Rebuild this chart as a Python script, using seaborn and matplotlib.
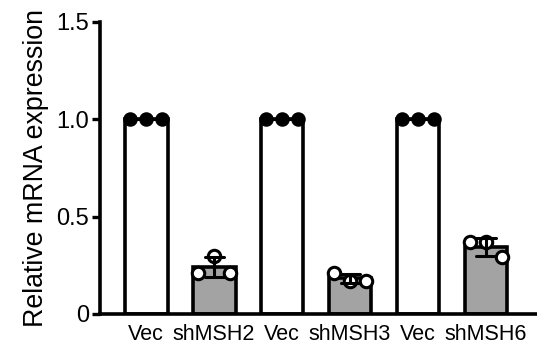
import matplotlib
matplotlib.use("Agg")
import matplotlib.pyplot as plt
import seaborn as sns
import numpy as np
import pandas as pd

groups = ["Vec1", "shMSH2", "Vec2", "shMSH3", "Vec3", "shMSH6"]
tick_labels = ["Vec", "shMSH2", "Vec", "shMSH3", "Vec", "shMSH6"]
vec1 = [1.0, 1.0, 1.0]
shmsh2 = [0.21, 0.30, 0.21]
vec2 = [1.0, 1.0, 1.0]
shmsh3 = [0.21, 0.17, 0.17]
vec3 = [1.0, 1.0, 1.0]
shmsh6 = [0.37, 0.37, 0.29]
replicate_offsets = [-0.24, 0.0, 0.24]

values = [vec1, shmsh2, vec2, shmsh3, vec3, shmsh6]
rows = []
for gi, (g, vals) in enumerate(zip(groups, values)):
    for ri, v in enumerate(vals):
        rows.append({"group": g, "value": v, "kind": "Vec" if g.startswith("Vec") else "sh",
                     "xpos": gi + replicate_offsets[ri]})
df = pd.DataFrame(rows)

sns.set_style("ticks")
plt.rcParams["font.family"] = ["Liberation Sans", "DejaVu Sans"]
for k in ["text.color", "axes.labelcolor", "xtick.color", "ytick.color", "axes.edgecolor"]:
    plt.rcParams[k] = "black"

fig = plt.figure(figsize=(5.37, 3.52), dpi=100)
ax = fig.add_axes([0.186, 0.108, 0.814, 0.83])

bar_colors = ["white" if g.startswith("Vec") else "#a3a3a3" for g in groups]
sns.barplot(data=df, x="group", y="value", hue="group", palette=bar_colors, order=groups,
            hue_order=groups, legend=False, width=0.63, edgecolor="black", linewidth=2.6,
            errorbar="sd", capsize=0.28, err_kws={"color": "black", "linewidth": 2.2, "zorder": 6},
            ax=ax)
for p in ax.patches:
    p.set_zorder(2)

vec_df = df[df["kind"] == "Vec"]
sh_df = df[df["kind"] == "sh"]
sns.scatterplot(data=vec_df, x="xpos", y="value", color="black", edgecolor="black",
                s=80, linewidth=1.5, zorder=5, ax=ax, legend=False)
sns.scatterplot(data=sh_df, x="xpos", y="value", color="white", edgecolor="black",
                s=80, linewidth=2.2, zorder=5, ax=ax, legend=False)

ax.set_xlim(-0.68, 5.75)
ax.set_ylim(0, 1.5)
ax.set_xticks(range(len(groups)))
ax.set_xticklabels(tick_labels, fontsize=15.5)
ax.set_yticks([0, 0.5, 1.0, 1.5])
ax.set_yticklabels(["0", "0.5", "1.0", "1.5"], fontsize=17)
ax.tick_params(axis="x", length=0, pad=7)
ax.tick_params(axis="y", length=6, width=2.4, pad=2)
ax.set_xlabel("")
ax.set_ylabel("Relative mRNA expression", fontsize=19.3, labelpad=5)
for side in ["top", "right"]:
    ax.spines[side].set_visible(False)
for side in ["left", "bottom"]:
    ax.spines[side].set_linewidth(2.6)
ax.set_facecolor("white")

fig.savefig("out.png", dpi=100, facecolor="white")
